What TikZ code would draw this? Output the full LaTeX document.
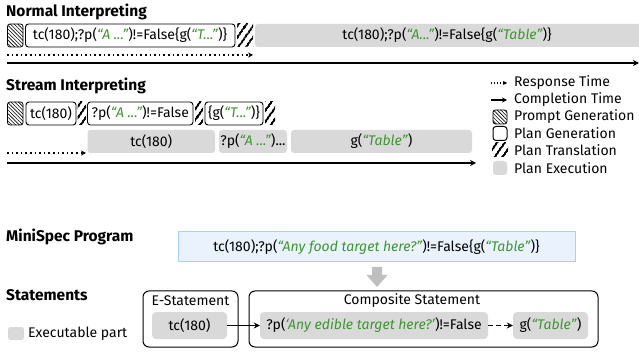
\documentclass[tikz,border=0pt]{standalone}
\usepackage{fontspec}
\setmainfont{Fira Sans}
\usetikzlibrary{arrows.meta,patterns.meta}
\definecolor{strgreen}{RGB}{62,150,48}
\definecolor{execgray}{RGB}{217,217,217}
\definecolor{progfill}{RGB}{234,243,253}
\definecolor{progdraw}{RGB}{169,209,245}
\definecolor{arrgray}{RGB}{191,191,191}
\newcommand{\str}[1]{\textcolor{strgreen}{\textit{#1}}}
\tikzset{
  x=1pt,y=-1pt,
  every node/.style={font=\fontsize{14}{16}\selectfont,inner sep=0pt},
  title/.style={font=\fontsize{15.5}{18}\selectfont\bfseries,anchor=west},
  pgbox/.style={draw,line width=0.9pt,rounded corners=3pt},
  hatchbox/.style={draw,line width=0.8pt,rounded corners=2.5pt,pattern={Lines[angle=-45,distance=2.6pt,line width=0.6pt]}},
  transbox/.style={pattern={Lines[angle=55,distance=6.5pt,line width=2.6pt]}},
  execbox/.style={fill=execgray,rounded corners=3pt},
  resp/.style={line width=1.8pt,dash pattern=on 1.6pt off 3pt,-{Stealth[length=5pt,width=5pt]}},
  compl/.style={line width=2.2pt,-{Stealth[length=6pt,width=6pt]}},
  legtext/.style={anchor=west},
  stmtbox/.style={draw,line width=1pt,rounded corners=6pt},
}
\begin{document}
\begin{tikzpicture}
\useasboundingbox (0,0) rectangle (639,352);
% ---------- Normal interpreting
\node[title] (t1) at (6,12) {Normal Interpreting};
\draw[hatchbox] (7.5,24) rectangle (23,47);
\draw[pgbox] (25.5,24) rectangle (235,47);
\node (n1) at (130,35.5) {tc(180);?p(\str{``A ...''})!=False\{g(\str{``T...''})\}};
\fill[transbox] (237,24) rectangle (253,47);
\fill[execbox] (255,24) rectangle (642,47);
\node (n2) at (447,35.5) {tc(180);?p(\str{``A...''})!=False\{g(\str{``Table''})\}};
\coordinate (r1s) at (7,55); \coordinate (r1e) at (253,55);
\draw[resp] (r1s) -- (r1e);
\coordinate (c1s) at (7,63); \coordinate (c1e) at (639,63);
\draw[compl] (c1s) -- (c1e);
% ---------- Stream interpreting
\node[title] (t2) at (6,86) {Stream Interpreting};
\draw[hatchbox] (7.5,102) rectangle (23,125);
\draw[pgbox] (26,102) rectangle (76,125);
\node (s1) at (51,113.5) {tc(180)};
\fill[transbox] (77.5,102) rectangle (86,125);
\draw[pgbox] (87.5,102) rectangle (193,125);
\node (s2) at (140.25,113.5) {?p(\str{``A ...''})!=False};
\fill[transbox] (195,102) rectangle (203,125);
\draw[pgbox] (205,102) rectangle (263,125);
\node (s3) at (234,113.5) {\{g(\str{``T...''})\}};
\fill[transbox] (265,102) rectangle (275,125);
\fill[execbox] (87.5,130) rectangle (215,153);
\node (e1) at (151.25,141.5) {tc(180)};
\fill[execbox] (219,130) rectangle (287,153);
\node (e2) at (253,141.5) {?p(\str{``A ...''})...};
\fill[execbox] (291,130) rectangle (472,153);
\node (e3) at (381.5,141.5) {g(\str{``Table''})};
\coordinate (r2s) at (7,153); \coordinate (r2e) at (86,153);
\draw[resp] (r2s) -- (r2e);
\coordinate (c2s) at (7,163); \coordinate (c2e) at (476,163);
\draw[compl] (c2s) -- (c2e);
% ---------- Legend
\coordinate (l1a) at (491,83); \coordinate (l1b) at (507,83);
\draw[resp,line width=1.2pt,dash pattern=on 1pt off 2pt,-{Stealth[length=4pt,width=4pt]}] (l1a) -- (l1b);
\node[legtext] (lt1) at (514,83) {Response Time};
\coordinate (l2a) at (491,100); \coordinate (l2b) at (507,100);
\draw[compl,line width=1.6pt,-{Stealth[length=5pt,width=5pt]}] (l2a) -- (l2b);
\node[legtext] (lt2) at (514,100) {Completion Time};
\draw[hatchbox] (493,110) rectangle (507,124);
\node[legtext] (lt3) at (514,117) {Prompt Generation};
\draw[pgbox,line width=1pt] (493,126.5) rectangle (507,140.5);
\node[legtext] (lt4) at (514,133.5) {Plan Generation};
\fill[transbox] (492,143) rectangle (508,157);
\node[legtext] (lt5) at (514,150) {Plan Translation};
\fill[execbox] (493,161) rectangle (507,175);
\node[legtext] (lt6) at (514,168) {Plan Execution};
% ---------- MiniSpec program
\node[title] (t3) at (6,237) {MiniSpec Program};
\node[draw=progdraw,fill=progfill,line width=1pt,minimum width=397pt,minimum height=30pt] (prog) at (376.5,247)
  {tc(180);?p(\str{``Any food target here?''})!=False\{g(\str{``Table''})\}};
\fill[arrgray] (372,267) -- (382,267) -- (382,275) -- (387.5,275) -- (377,287) -- (366.5,275) -- (372,275) -- cycle;
% ---------- Statements
\node[title] (t4) at (6,295) {Statements};
\fill[execbox,rounded corners=2.5pt] (8,327) rectangle (24,340);
\node[legtext] (ep) at (28,333.5) {Executable part};
\draw[stmtbox] (143,291) rectangle (238,347);
\node (el) at (190.5,300.5) {E-Statement};
\node[fill=execgray,rounded corners=4pt,minimum width=75pt,minimum height=27pt] (es) at (189.5,325.5) {tc(180)};
\draw[stmtbox] (249,291) rectangle (598,347);
\node (cl) at (412,300.5) {Composite Statement};
\node[fill=execgray,rounded corners=4pt,minimum width=228pt,minimum height=27pt] (cs1) at (374,325.5) {?p(\str{`Any edible target here?'})!=False};
\node[fill=execgray,rounded corners=4pt,minimum width=75pt,minimum height=27pt] (cs2) at (550.5,325.5) {g(\str{``Table''})};
\draw[line width=1.5pt,-{Stealth[length=6pt,width=6pt]}] (es.east) -- (cs1.west);
\draw[line width=1.5pt,dash pattern=on 5pt off 3pt,-{Stealth[length=6pt,width=6pt]}] (cs1.east) -- (cs2.west);
\end{tikzpicture}
\end{document}
